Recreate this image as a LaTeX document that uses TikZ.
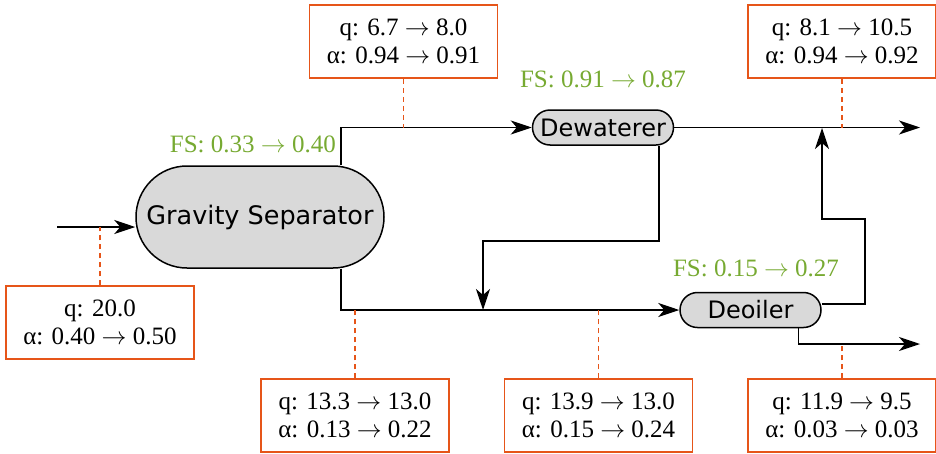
\documentclass[tikz,border=0pt]{standalone}
\usepackage{fontspec}
\setmainfont{Liberation Serif}
\newfontfamily\unitfont{DejaVu Sans}
\usetikzlibrary{arrows.meta}
\definecolor{tapcol}{RGB}{230,85,25}
\definecolor{fscol}{RGB}{119,170,50}

\begin{document}
\begin{tikzpicture}[x=1pt,y=-1pt,
  unit/.style={rectangle,draw,line width=1.5pt,fill=gray!30,
    inner sep=0pt,font=\unitfont\fontsize{24}{28}\selectfont},
  flow/.style={line width=1.5pt,-{Stealth[length=21pt,width=14pt,inset=6pt]}},
  info/.style={draw=tapcol,line width=1.5pt,fill=white,align=center,
    minimum width=188pt,minimum height=73pt,inner sep=0pt,
    font=\fontsize{25}{28}\selectfont},
  tap/.style={draw=tapcol,line width=1.3pt,dash pattern=on 5pt off 4pt},
  fslbl/.style={text=fscol,inner sep=0pt,font=\fontsize{25}{27}\selectfont}]
\useasboundingbox (0,0) rectangle (936,453);

% Draw the three units
\node[unit,minimum width=248pt,minimum height=102pt,rounded corners=51pt,
  font=\unitfont\fontsize{25.5}{30}\selectfont] (grav) at (260,217) {Gravity Separator};
\node[unit,minimum width=141pt,minimum height=35pt,rounded corners=17.5pt] (dew) at (603,127.5) {Dewaterer};
\node[unit,minimum width=141pt,minimum height=35pt,rounded corners=17.5pt] (deo) at (750.5,310) {Deoiler};

% Draw the free ends and bends
\coordinate (feed) at (57,227);
\coordinate (wout) at (920,128);
\coordinate (oout) at (920,344);
\coordinate (recyc) at (483,241);
\coordinate (oilup) at (865,219);
\coordinate (oilj) at (822,219);

% Draw the streams
\draw[flow] (feed) -- (feed -| grav.west);
\draw[flow] ([xshift=81pt]grav.north) |- (dew.west);
\draw[flow] ([xshift=81pt]grav.south) |- (deo.west);
\draw[flow] (dew.east) -- (dew.east -| wout);
\draw[flow] ([xshift=56pt]dew.south) |- (recyc) -- (recyc |- deo.west);
\draw[flow] ([yshift=6pt]deo.east) -| (oilup) -- (oilj) -- (oilj |- wout);
\draw[flow] ([xshift=48pt]deo.south) |- (oout);

% Draw the stream boxes
\node[info] (b0) at (100,322.5) {q: 20.0\\α: 0.40 $\rightarrow$ 0.50};
\node[info] (b1) at (403.5,41.5) {q: 6.7 $\rightarrow$ 8.0\\α: 0.94 $\rightarrow$ 0.91};
\node[info] (b2) at (842,41.5) {q: 8.1 $\rightarrow$ 10.5\\α: 0.94 $\rightarrow$ 0.92};
\node[info] (b3) at (355,415.5) {q: 13.3 $\rightarrow$ 13.0\\α: 0.13 $\rightarrow$ 0.22};
\node[info] (b4) at (598.5,415.5) {q: 13.9 $\rightarrow$ 13.0\\α: 0.15 $\rightarrow$ 0.24};
\node[info] (b5) at (842,415.5) {q: 11.9 $\rightarrow$ 9.5\\α: 0.03 $\rightarrow$ 0.03};

% Draw the dashed taps
\draw[tap] (b0.north) -- (b0.north |- feed);
\draw[tap] (b1.south) -- (b1.south |- wout);
\draw[tap] (b2.south) -- (b2.south |- wout);
\draw[tap] (b3.north) -- (b3.north |- deo.west);
\draw[tap] (b4.north) -- (b4.north |- deo.west);
\draw[tap] (b5.north) -- (b5.north |- oout);

% Draw the FS labels
\node[fslbl,anchor=base east] (fs1) at (336,152) {FS: 0.33 $\rightarrow$ 0.40};
\node[fslbl,anchor=base] (fs2) at (603,87) {FS: 0.91 $\rightarrow$ 0.87};
\node[fslbl,anchor=base] (fs3) at (756,276) {FS: 0.15 $\rightarrow$ 0.27};
\end{tikzpicture}
\end{document}
